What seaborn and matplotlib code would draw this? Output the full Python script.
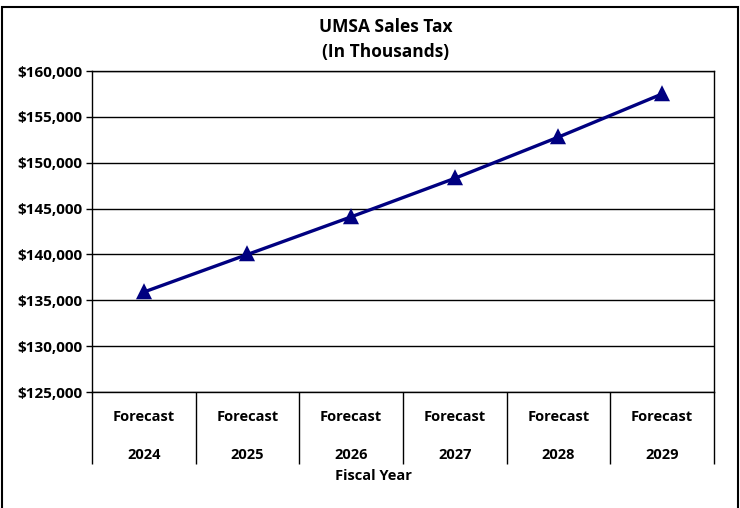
import matplotlib.pyplot as plt
import matplotlib.ticker as mticker
import pandas as pd
import seaborn as sns
from matplotlib.patches import Rectangle

years = ['2024', '2025', '2026', '2027', '2028', '2029']
labels = ['Forecast\n\n' + y for y in years]
sales_tax = [135900, 140000, 144100, 148300, 152800, 157500]

df = pd.DataFrame({'year': labels, 'tax': sales_tax})

sns.set_style('white')
plt.rcParams['font.family'] = ['Open Sans', 'DejaVu Sans']
plt.rcParams['text.color'] = 'black'
plt.rcParams['xtick.color'] = 'black'
plt.rcParams['ytick.color'] = 'black'

fig = plt.figure(figsize=(7.4, 5.08), dpi=100)
ax = fig.add_axes([0.1243, 0.2283, 0.8405, 0.6319])

sns.pointplot(data=df, x='year', y='tax', color='#000080', markers='^',
              linewidth=2.4, markersize=9, ax=ax)

ax.set_xlim(-0.5, len(years) - 0.5)
ax.set_ylim(125000, 160000)
ax.yaxis.set_major_locator(mticker.MultipleLocator(5000))
ax.yaxis.set_major_formatter(mticker.FuncFormatter(lambda v, p: f'${v:,.0f}'))
ax.grid(axis='y', color='black', linewidth=1)
ax.set_axisbelow(True)

for s in ax.spines.values():
    s.set_visible(True)
    s.set_color('black')
    s.set_linewidth(1)

# category dividers below the axis
ax.set_xticks([i - 0.5 for i in range(len(years) + 1)], minor=True)
ax.tick_params(axis='x', which='minor', bottom=True, length=52, width=1,
               color='black', direction='out')
ax.tick_params(axis='x', which='major', bottom=False, length=0, pad=13,
               labelsize=10.5, labelcolor='black')
ax.tick_params(axis='y', length=4, width=1, color='black', direction='out',
               left=True, labelsize=11, pad=3, labelcolor='black')
for t in ax.get_xticklabels() + ax.get_yticklabels():
    t.set_fontweight('bold')
for t in ax.get_xticklabels():
    t.set_linespacing(1.45)
ax.set_xlabel('')
ax.set_ylabel('')

fig.text(386 / 740, 1 - 27 / 508, 'UMSA Sales Tax', ha='center', va='center',
         fontsize=12.5, fontweight='bold')
fig.text(386 / 740, 1 - 52 / 508, '(In Thousands)', ha='center', va='center',
         fontsize=12.5, fontweight='bold')
fig.text(373 / 740, 1 - 476 / 508, 'Fiscal Year', ha='center', va='center',
         fontsize=10.5, fontweight='bold')

fig.patches.append(Rectangle((0.003, -0.01), 0.994, 1 - 0.004, transform=fig.transFigure,
                             fill=False, edgecolor='black', linewidth=1.5))

fig.savefig('out.png', dpi=100)
